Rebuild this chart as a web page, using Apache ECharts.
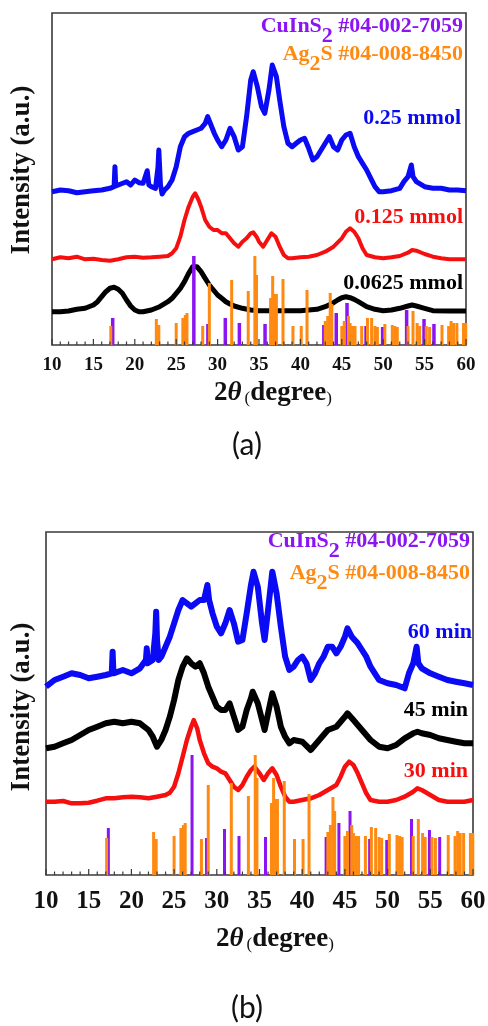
<!DOCTYPE html>
<html>
<head>
<meta charset="utf-8">
<script src="https://cdn.jsdelivr.net/npm/echarts@6/dist/echarts.min.js"></script>
<style>
  html, body { margin: 0; padding: 0; background: #fff; }
  #chart { width: 488px; height: 1026px; }
</style>
</head>
<body>
<div id="chart"></div>
<script>
/* ================= DATA ================= */
// x in degrees 2θ, y in arbitrary units (offset per trace)
const xTicks = [10, 15, 20, 25, 30, 35, 40, 45, 50, 55, 60];
const xMinor = [11, 12, 13, 14, 16, 17, 18, 19, 21, 22, 23, 24, 26, 27, 28, 29, 31, 32, 33, 34, 36, 37, 38, 39, 41, 42, 43, 44, 46, 47, 48, 49, 51, 52, 53, 54, 56, 57, 58, 59];

// panel (a): precursor amount
const blueA = [[10,153.3],[11,155],[12,154.3],[13,152.3],[14,153.3],[15,154.3],[16,155],[17,156.7],[17.5,158.3],[17.6,178.3],[17.7,159],[18,160],[19,163.3],[19.5,160],[20,165],[20.5,162.3],[21,161.7],[21.5,174.3],[21.7,160],[22,158.3],[22.5,156.7],[22.8,178],[22.9,195],[23.1,160],[23.3,151],[23.6,155],[24,158.3],[24.5,165],[25,178.3],[25.5,198.3],[26,208.3],[26.5,211.7],[27,213.3],[27.5,215],[28,216.7],[28.5,221.7],[28.8,228.3],[29.2,220],[29.6,211.7],[30,205],[30.5,198.3],[31,205],[31.5,216.7],[32,208.3],[32.5,195],[33,198.3],[33.5,228.3],[34,265],[34.3,273.3],[34.8,258.3],[35.3,238.3],[35.7,231.7],[36.2,255],[36.6,280],[37.1,268.3],[37.5,245],[38,218.3],[38.5,201.7],[39,198.3],[39.5,201.7],[40,205],[40.5,206.7],[41,196.7],[41.5,185],[42,188.3],[42.5,195],[43,201.7],[43.5,208.3],[44,198.3],[44.5,195],[45,205],[45.5,210],[46,211.7],[46.5,198.3],[47,188.3],[47.5,181.7],[48,175],[48.5,166.7],[49,158.3],[49.5,153.3],[50,153.3],[51,154.3],[52,156.7],[52.5,163.3],[53,168.3],[53.4,180],[53.6,168.3],[54,163.3],[55,158.3],[56,156.7],[57,156.7],[58,155],[59,155],[60,154.3]];
const redA = [[10,85.7],[11,87.7],[12,86.7],[13,88.3],[14,85.7],[15,86.3],[16,85],[17,84.3],[18,85.7],[19,87.7],[20,88.3],[21,87.3],[22,87.7],[23,88.3],[24,89],[24.5,91.7],[25,96.7],[25.5,108.3],[26,125],[26.5,138.3],[27,148.3],[27.3,151.7],[27.7,145],[28,138.3],[28.5,125],[29,118.3],[29.5,115],[30,115],[30.5,111.7],[31,111.7],[31.5,106.7],[32,101.7],[32.5,98.3],[33,103.3],[33.5,106.7],[34,111.7],[34.3,112.7],[34.7,108.3],[35,103.3],[35.5,98.3],[36,105],[36.5,111.7],[37,108.3],[37.5,98.3],[38,90],[38.5,86.7],[39,86.7],[40,87.7],[41,88.3],[42,90],[43,93.3],[44,98.3],[45,106.7],[45.5,113.3],[46,116.7],[46.5,113.3],[47,106.7],[47.5,96.7],[48,90],[49,87.7],[50,86.7],[51,87.7],[52,89],[53,92.3],[53.5,95],[54,94.3],[55,91],[56,88.3],[57,86.7],[58,85.7],[59,85.7],[60,85.7]];
const blackA = [[10,33.3],[11,33.3],[12,34],[13,35.7],[14,36.7],[15,40],[15.5,43.3],[16,48.3],[16.5,53.3],[17,56.7],[17.5,57.7],[18,55.7],[18.5,51.7],[19,45],[19.5,39],[20,35],[20.5,33.3],[21,33.3],[22,35],[23,38.3],[24,43.3],[24.5,46.7],[25,51.7],[25.5,56.7],[26,63.3],[26.5,71.7],[27,78.3],[27.2,80],[27.5,78.3],[28,73.3],[28.5,66.7],[29,60],[29.5,55],[30,50],[30.5,46.7],[31,43.3],[31.5,41],[32,39],[33,36.7],[34,35],[35,34.3],[36,34.3],[38,34.3],[40,34.3],[42,35.7],[43,38.3],[44,42.3],[44.5,45],[45,47.3],[45.5,48.3],[46,47.3],[46.5,45.7],[47,43.3],[48,38.3],[49,35.7],[50,34.3],[51,35],[52,36.7],[53,39],[53.5,40],[54,39],[55,36.7],[56,34.3],[58,34],[60,34]];

// panel (b): reaction time
const blueB = [[10,188.3],[11,195],[12,198.3],[13,201.7],[14,200],[15,196.7],[16,198.3],[17,200],[17.7,201.7],[17.8,223.3],[17.9,201.7],[18,201.7],[19,205],[20,201.7],[21,206.7],[21.7,215],[21.8,226.7],[21.9,211.7],[22.5,215],[22.8,241.7],[22.9,263.3],[23,235],[23.2,215],[23.5,218.3],[24,228.3],[24.5,238.3],[25,251.7],[25.5,265],[26,275],[26.5,271.7],[27,268.3],[27.5,271.7],[28,275],[28.5,275],[28.9,290],[29.1,275],[29.5,261.7],[30,248.3],[30.5,241.7],[31,251.7],[31.5,265],[32,251.7],[32.5,233.3],[33,235],[33.5,261.7],[34,290],[34.3,303.3],[34.8,288.3],[35.3,251.7],[35.6,235],[36,265],[36.5,303.3],[37,281.7],[37.5,248.3],[38,218.3],[38.5,205],[39,208.3],[39.5,215],[40,218.3],[40.5,211.7],[41,195],[41.5,201.7],[42,211.7],[42.5,218.3],[43,228.3],[43.5,228.3],[44,221.7],[44.5,228.3],[45,238.3],[45.3,246.7],[45.8,238.3],[46.5,231.7],[47,225],[47.5,218.3],[48,208.3],[48.5,201.7],[49,195],[50,191.7],[51,190],[52,186.7],[52.5,201.7],[53,211.7],[53.4,228.3],[53.6,211.7],[54,206.7],[55,201.7],[56,198.3],[57,195],[58,193.3],[59,191.7],[60,190]];
const blackB = [[10,126.7],[11,128.3],[12,131.7],[13,135],[14,140],[15,145],[16,148.3],[17,151.7],[18,153.3],[19,151.7],[20,153.3],[21,151.7],[22,145],[22.5,138.3],[23,128.3],[23.5,135],[24,145],[24.5,158.3],[25,175],[25.5,195],[26,208.3],[26.5,216.7],[27,211.7],[27.5,208.3],[28,211.7],[28.5,201.7],[29,188.3],[29.5,178.3],[30,168.3],[30.5,165],[31,165],[31.5,171.7],[32,158.3],[32.5,145],[33,148.3],[33.5,165],[34,176.7],[34.2,183.3],[34.8,171.7],[35.3,155],[35.6,145],[36,161.7],[36.5,181.7],[37,168.3],[37.5,148.3],[38,138.3],[38.5,131.7],[39,135],[40,133.3],[41,125],[42,135],[43,145],[44,148.3],[45,158.3],[45.3,161.7],[46,155],[47,145],[48,135],[49,128.3],[50,126.7],[51,130],[52,136.7],[53,141.7],[53.5,143.3],[54,141.7],[55,140],[56,136.7],[57,135],[58,133.3],[59,131.7],[60,131.7]];
const redB = [[10,73.3],[11,73.3],[12,74],[13,71.7],[14,71.7],[15,72.3],[16,74.3],[17,76.7],[18,76.7],[19,77.7],[20,78.3],[21,77.7],[22,76.7],[23,78.3],[24,80],[24.5,82.3],[25,88.3],[25.5,101.7],[26,118.3],[26.5,135],[27,148.3],[27.3,155],[27.7,146.7],[28,135],[28.5,121.7],[29,111.7],[29.5,108.3],[30,106.7],[30.5,103.3],[31,101.7],[31.5,95],[32,88.3],[32.5,85],[33,90],[33.5,98.3],[34,105],[34.4,108.3],[35,101.7],[35.5,95],[36,101.7],[36.5,106.7],[37,100],[37.5,88.3],[38,78.3],[38.5,73.3],[39,73.3],[40,75],[41,76.7],[42,80],[43,85],[44,90],[44.5,98.3],[45,108.3],[45.5,113.3],[46,110],[46.5,101.7],[47,91.7],[47.5,81.7],[48,75],[49,73.3],[50,73.3],[51,75],[52,78.3],[53,83.3],[53.5,86.7],[54,85],[55,80],[56,75],[57,73.3],[58,73.3],[59,73.3],[60,75]];

// reference cards (stick patterns)
const cisPos = [17.3, 27.1, 28.8, 30.9, 32.6, 35.7, 42.8, 44.3, 45.6, 47.9, 49.9, 52.8, 54.9, 56.1];
const cisHa  = [27, 89, 21, 27, 22, 21, 20, 32, 42, 19, 18, 35, 26, 21];
const cisHb  = [47, 120, 37, 46, 39, 38, 38, 52, 64, 36, 35, 56, 45, 38];

const agsPos = [17.1, 22.6, 22.9, 25.0, 25.8, 26.1, 26.3, 28.2, 29.0, 31.7, 33.7, 34.5, 34.7, 36.4, 36.65, 36.8, 37.1, 37.9, 39.1, 40.1, 40.8, 43.0, 43.3, 43.6, 43.8, 45.0, 45.3, 45.8, 46.0, 46.3, 46.6, 47.4, 48.1, 48.6, 49.0, 49.3, 50.2, 51.1, 51.4, 51.7, 53.0, 53.6, 54.1, 54.4, 55.2, 55.6, 57.1, 57.9, 58.2, 58.5, 58.9, 59.7, 60.0];
const agsHa  = [19, 26, 20, 22, 27, 30, 32, 19, 62, 65, 54, 89, 70, 47, 69, 51, 51, 66, 19, 19, 55, 24, 29, 52, 41, 19, 24, 29, 22, 19, 19, 19, 27, 27, 19, 18, 21, 20, 19, 18, 19, 34, 22, 19, 19, 18, 20, 19, 24, 22, 22, 22, 22];
const agsHb  = [37, 43, 36, 39, 47, 50, 52, 36, 90, 92, 79, 120, 97, 72, 97, 76, 76, 94, 36, 36, 81, 43, 50, 78, 64, 39, 44, 50, 42, 39, 39, 39, 48, 47, 38, 37, 41, 40, 39, 38, 39, 56, 42, 38, 38, 37, 40, 39, 44, 42, 42, 42, 42];

/* ================= STYLE ================= */
const SERIF = "Liberation Serif";
const PURPLE = "#8a14f2";
const ORANGE = "#ff8a12";
const BLUE = "#0a0af5";
const RED = "#f50f0f";
const FRAME = "#3a3a3a";

const sticks = (pos, h) => pos.map((p, i) => [p, h[i]]);

const chart = echarts.init(document.getElementById("chart"), null, { renderer: "canvas" });

const panels = [
  { grid: { left: 52, top: 13, width: 414, height: 332 }, ymax: 332, tickSize: 19, labelOffset: 20 },
  { grid: { left: 46, top: 532, width: 427, height: 343 }, ymax: 343, tickSize: 25, labelOffset: 27 },
];

const xAxis = panels.map((p, i) => ({
  gridIndex: i,
  type: "value",
  min: 10,
  max: 60,
  interval: 5,
  axisLine: { show: false },
  axisTick: { show: false },
  axisLabel: { show: false },
  splitLine: { show: false },
}));

const yAxis = panels.map((p, i) => ({
  gridIndex: i,
  type: "value",
  min: 0,
  max: p.ymax,
  show: false,
}));

/* ================= SERIES BUILDERS ================= */
const line = (data, color, width, idx) => ({
  type: "line",
  xAxisIndex: idx,
  yAxisIndex: idx,
  data,
  showSymbol: false,
  silent: true,
  lineStyle: { color, width, join: "round" },
  z: 2,
});

const bar = (data, color, width, idx) => ({
  type: "bar",
  xAxisIndex: idx,
  yAxisIndex: idx,
  data,
  barWidth: width,
  barGap: "-100%",
  silent: true,
  itemStyle: { color },
  z: 3,
});

// inward tick marks on the bottom edge, placed through the x scale
const ticks = (values, len, idx) => ({
  type: "custom",
  xAxisIndex: idx,
  yAxisIndex: idx,
  data: values.map((v) => [v, 0]),
  silent: true,
  clip: false,
  z: 4,
  renderItem: (params, api) => {
    const p = api.coord([api.value(0), 0]);
    return {
      type: "line",
      shape: { x1: p[0], y1: p[1], x2: p[0], y2: p[1] - len },
      style: { stroke: FRAME, lineWidth: 1.2 },
    };
  },
});

// tick labels under the bottom edge
const tickLabels = (idx) => ({
  type: "custom",
  xAxisIndex: idx,
  yAxisIndex: idx,
  data: xTicks.map((v) => [v, 0]),
  silent: true,
  clip: false,
  z: 4,
  renderItem: (params, api) => {
    const p = api.coord([api.value(0), 0]);
    return {
      type: "text",
      x: p[0],
      y: p[1] + panels[idx].labelOffset,
      style: {
        text: String(api.value(0)),
        font: `bold ${panels[idx].tickSize}px '${SERIF}'`,
        fill: "#111",
        align: "center",
        verticalAlign: "middle",
      },
    };
  },
});

/* ================= TEXT ================= */
const txt = (x, y, text, color, size) => ({
  type: "text",
  x,
  y,
  silent: true,
  style: {
    text,
    fill: color,
    font: `bold ${size}px '${SERIF}'`,
    align: "right",
    verticalAlign: "middle",
  },
});

const cardText = (x, y, head, tail, color) => ({
  type: "text",
  x,
  y,
  silent: true,
  style: {
    text: `{m|${head}}{s|2}{m|${tail}}`,
    align: "right",
    verticalAlign: "middle",
    rich: {
      m: { fill: color, fontSize: 22, fontWeight: "bold", fontFamily: SERIF, verticalAlign: "top", lineHeight: 24 },
      s: { fill: color, fontSize: 22, fontWeight: "bold", fontFamily: SERIF, verticalAlign: "bottom", lineHeight: 32 },
    },
  },
});

const yTitle = (x, y) => ({
  type: "text",
  x,
  y,
  rotation: Math.PI / 2,
  silent: true,
  style: {
    text: "Intensity (a.u.)",
    fill: "#111",
    font: `bold 27px '${SERIF}'`,
    align: "center",
    verticalAlign: "middle",
  },
});

const xTitle = (x, y) => ({
  type: "text",
  x,
  y,
  silent: true,
  style: {
    text: "{n|2}{t|θ}{p|(}{d|degree}{p|)}",
    align: "center",
    verticalAlign: "middle",
    rich: {
      n: { fill: "#111", fontSize: 27, fontWeight: "bold", fontFamily: SERIF, verticalAlign: "bottom", lineHeight: 30 },
      t: { fill: "#111", fontSize: 27, fontStyle: "italic", fontWeight: "bold", fontFamily: SERIF, verticalAlign: "bottom", lineHeight: 30, padding: [0, 3, 0, 0] },
      p: { fill: "#111", fontSize: 17, fontFamily: SERIF, verticalAlign: "bottom", lineHeight: 24 },
      d: { fill: "#111", fontSize: 27, fontWeight: "bold", fontFamily: SERIF, verticalAlign: "bottom", lineHeight: 30 },
    },
  },
});

const panelTag = (x, y, text) => ({
  type: "text",
  x,
  y,
  silent: true,
  style: { text, fill: "#111", font: "30px Lato", align: "center", verticalAlign: "middle" },
});

const option = {
  animation: false,
  backgroundColor: "#fff",
  grid: panels.map((p) => Object.assign({ show: true, borderColor: FRAME, borderWidth: 1.6, backgroundColor: "transparent" }, p.grid)),
  xAxis,
  yAxis,
  series: [
    line(blueA, BLUE, 5, 0),
    line(redA, RED, 4, 0),
    line(blackA, "#000", 5, 0),
    bar(sticks(cisPos, cisHa), PURPLE, 3.5, 0),
    bar(sticks(agsPos, agsHa), ORANGE, 3, 0),
    ticks(xTicks, 6, 0),
    ticks(xMinor, 3.5, 0),
    tickLabels(0),

    line(blueB, BLUE, 6, 1),
    line(blackB, "#000", 6, 1),
    line(redB, RED, 4.5, 1),
    bar(sticks(cisPos, cisHb), PURPLE, 3, 1),
    bar(sticks(agsPos, agsHb), ORANGE, 3, 1),
    ticks(xTicks, 6, 1),
    ticks(xMinor, 3.5, 1),
    tickLabels(1),
  ],
  graphic: [
    cardText(463, 31, "CuInS", " #04-002-7059", PURPLE),
    cardText(463, 59, "Ag", "S #04-008-8450", ORANGE),
    txt(461, 118, "0.25 mmol", BLUE, 22),
    txt(463, 217, "0.125 mmol", RED, 22),
    txt(463, 283, "0.0625 mmol", "#000", 22),
    yTitle(22, 170),
    xTitle(273, 392),
    panelTag(247, 445, "(a)"),

    cardText(470, 546, "CuInS", " #04-002-7059", PURPLE),
    cardText(470, 578, "Ag", "S #04-008-8450", ORANGE),
    txt(472, 632, "60 min", BLUE, 22),
    txt(468, 710, "45 min", "#000", 22),
    txt(468, 771, "30 min", RED, 22),
    yTitle(22, 707),
    xTitle(275, 938),
    panelTag(247, 1008, "(b)"),
  ],
};

chart.setOption(option);
</script>
</body>
</html>
